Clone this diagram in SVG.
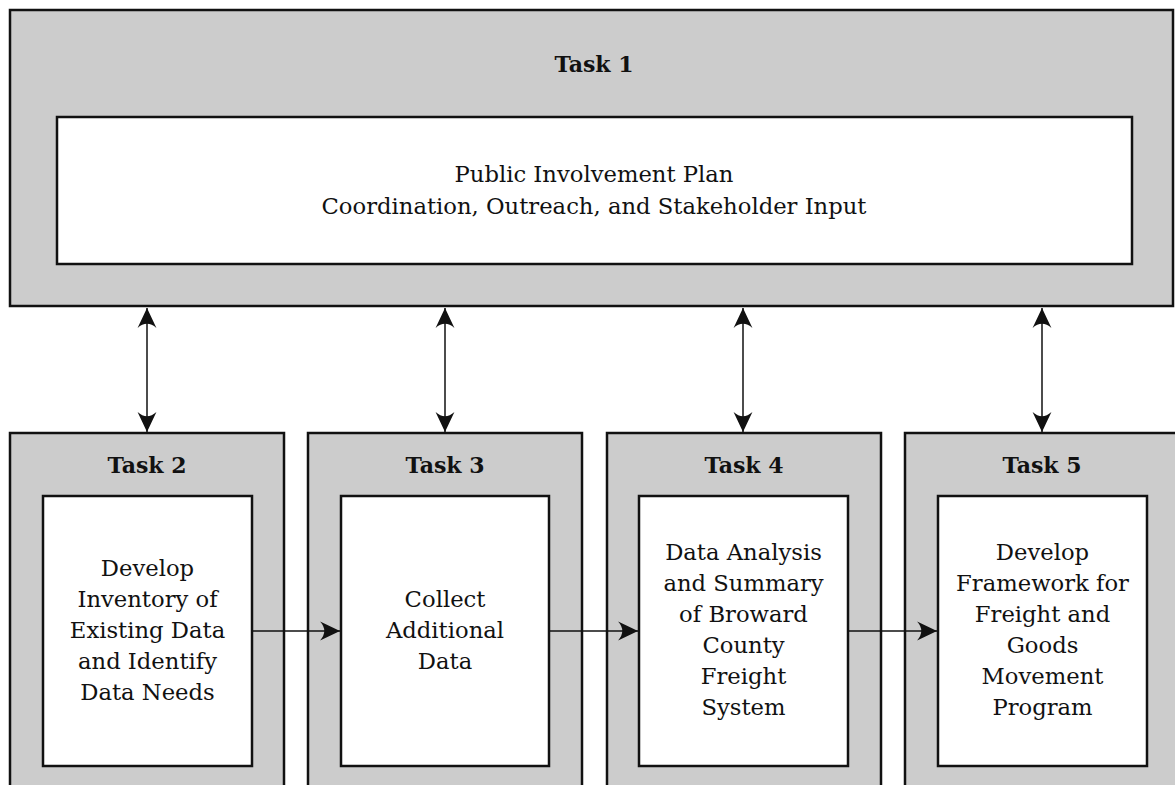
<svg xmlns="http://www.w3.org/2000/svg" width="1175" height="785" viewBox="0 0 1175 785">
  <style>
    .outer { fill: #cccccc; stroke: #111111; stroke-width: 2.5; }
    .inner { fill: #ffffff; stroke: #111111; stroke-width: 2.5; }
    .title { font-family: "DejaVu Serif", "Liberation Serif", serif; font-weight: bold; font-size: 22px; fill: #111111; text-anchor: middle; }
    .body { font-family: "DejaVu Serif", "Liberation Serif", serif; font-size: 22.7px; fill: #111111; text-anchor: middle; }
    .link { stroke: #111111; stroke-width: 1.5; fill: none; }
  </style>
  <defs>
    <marker id="head" markerUnits="userSpaceOnUse" markerWidth="22" markerHeight="22" viewBox="-20 -10 21 20" refX="0" refY="0" orient="auto-start-reverse">
      <path d="M0,0 L-19,-9 Q-11,0 -19,9 Z" fill="#111111"/>
    </marker>
  </defs>

  <!-- Task 1: umbrella task -->
  <g id="task1">
    <rect class="outer" x="10" y="10" width="1163" height="296"/>
    <text class="title" x="594" y="72">Task 1</text>
    <rect class="inner" x="57" y="117" width="1075" height="147"/>
    <text class="body" x="594" y="182">Public Involvement Plan</text>
    <text class="body" x="594" y="214">Coordination, Outreach, and Stakeholder Input</text>
  </g>

  <!-- Task 2 -->
  <g id="task2">
    <rect class="outer" x="10" y="433" width="274" height="400"/>
    <text class="title" x="147" y="473">Task 2</text>
    <rect class="inner" x="43" y="496" width="209" height="270"/>
    <text class="body"><tspan x="147.5" y="576">Develop</tspan><tspan x="147.5" y="607">Inventory of</tspan><tspan x="147.5" y="638">Existing Data</tspan><tspan x="147.5" y="669">and Identify</tspan><tspan x="147.5" y="700">Data Needs</tspan></text>
  </g>

  <!-- Task 3 -->
  <g id="task3">
    <rect class="outer" x="308" y="433" width="274" height="400"/>
    <text class="title" x="445" y="473">Task 3</text>
    <rect class="inner" x="341" y="496" width="208" height="270"/>
    <text class="body"><tspan x="445" y="607">Collect</tspan><tspan x="445" y="638">Additional</tspan><tspan x="445" y="669">Data</tspan></text>
  </g>

  <!-- Task 4 -->
  <g id="task4">
    <rect class="outer" x="607" y="433" width="274" height="400"/>
    <text class="title" x="744" y="473">Task 4</text>
    <rect class="inner" x="639" y="496" width="209" height="270"/>
    <text class="body"><tspan x="743.5" y="560">Data Analysis</tspan><tspan x="743.5" y="591">and Summary</tspan><tspan x="743.5" y="622">of Broward</tspan><tspan x="743.5" y="653">County</tspan><tspan x="743.5" y="684">Freight</tspan><tspan x="743.5" y="715">System</tspan></text>
  </g>

  <!-- Task 5 -->
  <g id="task5">
    <rect class="outer" x="905" y="433" width="285" height="400"/>
    <text class="title" x="1042" y="473">Task 5</text>
    <rect class="inner" x="938" y="496" width="209" height="270"/>
    <text class="body"><tspan x="1042.5" y="560">Develop</tspan><tspan x="1042.5" y="591">Framework for</tspan><tspan x="1042.5" y="622">Freight and</tspan><tspan x="1042.5" y="653">Goods</tspan><tspan x="1042.5" y="684">Movement</tspan><tspan x="1042.5" y="715">Program</tspan></text>
  </g>

  <!-- Connectors: two-way links to Task 1, one-way flow between tasks -->
  <g id="connectors">
    <line class="link" x1="147" y1="308" x2="147" y2="432" marker-start="url(#head)" marker-end="url(#head)"/>
    <line class="link" x1="445" y1="308" x2="445" y2="432" marker-start="url(#head)" marker-end="url(#head)"/>
    <line class="link" x1="743" y1="308" x2="743" y2="432" marker-start="url(#head)" marker-end="url(#head)"/>
    <line class="link" x1="1042" y1="308" x2="1042" y2="432" marker-start="url(#head)" marker-end="url(#head)"/>
    <line class="link" x1="253" y1="631" x2="340" y2="631" marker-end="url(#head)"/>
    <line class="link" x1="550" y1="631" x2="638" y2="631" marker-end="url(#head)"/>
    <line class="link" x1="849" y1="631" x2="937" y2="631" marker-end="url(#head)"/>
  </g>
</svg>
